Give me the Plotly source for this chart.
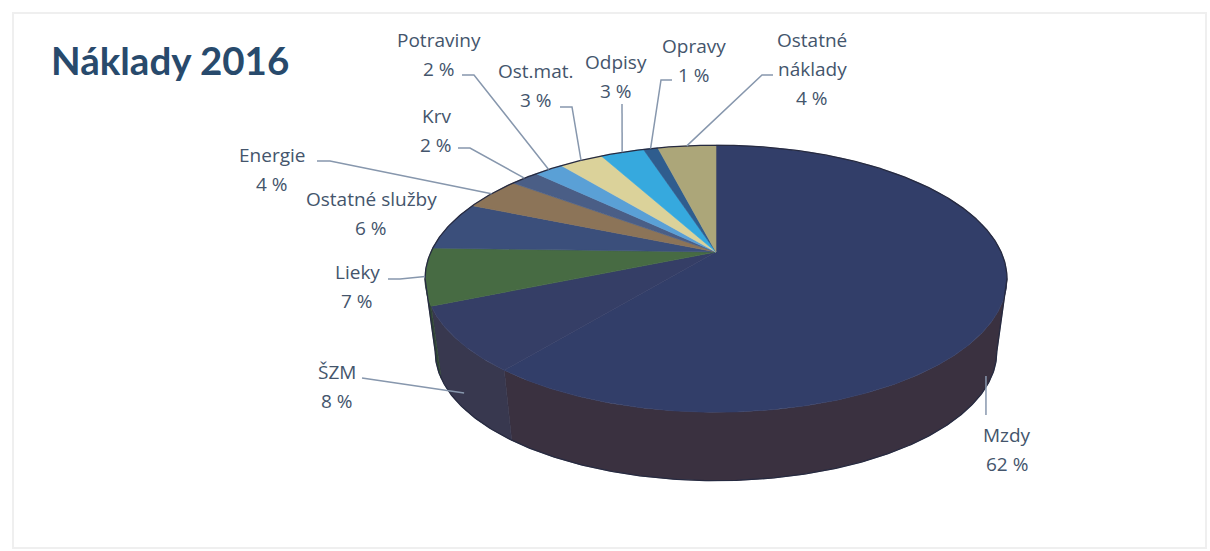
import numpy as np
import plotly.graph_objects as go

# ---------------- data ----------------
categories = ["Mzdy", "ŠZM", "Lieky", "Ostatné služby", "Energie", "Krv",
              "Potraviny", "Ost.mat.", "Odpisy", "Opravy", "Ostatné náklady"]
values = [62, 8, 7, 6, 4, 2, 2, 3, 3, 1, 4]
label_lines = [["Mzdy"], ["ŠZM"], ["Lieky"], ["Ostatné služby"], ["Energie"], ["Krv"],
               ["Potraviny"], ["Ost.mat."], ["Odpisy"], ["Opravy"], ["Ostatné", "náklady"]]
title_text = "Náklady 2016"

# ---------------- styles ----------------
top_colors = ["#323e69", "#353e66", "#476b43", "#3b4f7b", "#8c7458", "#4a5e86",
              "#5aa0d6", "#dbd29a", "#36a9de", "#2f5d8e", "#aca679"]
side_colors = ["#3a3140", "#38384f", "#2f4535", "#2f3f62", "#6f5c46", "#3b4b6b",
               "#4880ab", "#afa87b", "#2b87b1", "#254a71", "#8a855f"]
text_color = "#44556c"
title_color = "#284a6c"
leader_color = "#8797ad"
LABEL_FONT = "'Open Sans', sans-serif"
TITLE_FONT = "Lato, 'Open Sans', sans-serif"

# label layout: centre of first line, leader start, elbow dx, leader end depth fraction
label_pos = [(1007, 435), (337, 372), (357, 272), (371, 199), (272, 155), (436, 116),
             (439, 40), (536, 71), (616, 62), (694, 46), (812, 40)]
leader_start = [None, (362, 378), (388, 279), None, (317, 161), (458, 148),
                (462, 75), (560, 107), (622, 104), (672, 80), (773, 75)]
leader_dx = [0, 0, 12, 0, 13, 12, 12, 12, 0, -11, -11]
leader_depth = [1.0, 0.75, 0, 0, 0, 0, 0, 0, 0, 0, 0]
LINE_H = 29

# ---------------- geometry (projected 3D pie) ----------------
CX, AY = 716.0, 252.0   # apex of pie on screen
E = 0.2                 # perspective factor
M = 128.2               # vertical scale
K = 285.1               # horizontal scale
DEPTH = 74.0
SHRINK = 0.035          # bottom face slightly smaller (perspective)


def proj(theta_deg, z=0.0):
    t = np.radians(theta_deg)
    X, Y = np.sin(t), np.cos(t)
    w = 1 + E * Y
    s = 1 - SHRINK * z
    return CX + s * K * X / w, AY - s * M * Y / w + z * DEPTH


vals = np.array(values, dtype=float)
ang = np.concatenate([[0], np.cumsum(vals / vals.sum() * 360.0)])
VIS_A = 90 + np.degrees(np.arcsin(E))
VIS_B = 270 - np.degrees(np.arcsin(E))

fig = go.Figure()

# side faces
for i in range(len(values)):
    a, b = max(ang[i], VIS_A), min(ang[i + 1], VIS_B)
    if b <= a:
        continue
    th = np.linspace(a, b, max(4, int((b - a) * 2)))
    xt, yt = proj(th, 0)
    xb, yb = proj(th[::-1], 1)
    fig.add_trace(go.Scatter(x=np.concatenate([xt, xb, xt[:1]]), y=np.concatenate([yt, yb, yt[:1]]),
                             mode="lines", fill="toself", fillcolor=side_colors[i],
                             line=dict(color=side_colors[i], width=0.6), hoverinfo="skip"))

# top faces
for i in range(len(values)):
    th = np.linspace(ang[i], ang[i + 1], max(4, int((ang[i + 1] - ang[i]) * 2)))
    xr, yr = proj(th, 0)
    fig.add_trace(go.Scatter(x=np.concatenate([[CX], xr, [CX]]), y=np.concatenate([[AY], yr, [AY]]),
                             mode="lines", fill="toself", fillcolor=top_colors[i],
                             line=dict(color=top_colors[i], width=0.6), hoverinfo="skip"))

# silhouette outline: back rim over the top, then bottom front rim, closed
th_back = np.linspace(VIS_B, VIS_A + 360, 400) % 360
xb1, yb1 = proj(th_back, 0)
th_front = np.linspace(VIS_A, VIS_B, 300)
xf, yf = proj(th_front, 1)
xl0, yl0 = proj(VIS_B, 0)
ox = np.concatenate([xb1, xf, [xl0]])
oy = np.concatenate([yb1, yf, [yl0]])
fig.add_trace(go.Scatter(x=ox, y=oy, mode="lines", line=dict(color="#262a40", width=1.3),
                         hoverinfo="skip"))

# leaders
for i in range(len(values)):
    mid = (ang[i] + ang[i + 1]) / 2
    ex, ey = proj(mid, leader_depth[i])
    if i == 0:
        fig.add_trace(go.Scatter(x=[ex - 8, ex - 8], y=[label_pos[0][1] - 20, ey + 6], mode="lines",
                                 line=dict(color=leader_color, width=1.5), hoverinfo="skip"))
        continue
    if leader_start[i] is None:
        continue
    sx, sy = leader_start[i]
    fig.add_trace(go.Scatter(x=[sx, sx + leader_dx[i], ex], y=[sy, sy, ey], mode="lines",
                             line=dict(color=leader_color, width=1.5), hoverinfo="skip"))

# labels
annotations = []
for i in range(len(values)):
    lines = label_lines[i] + [f"{values[i]} %"]
    x0, y0 = label_pos[i]
    for j, t in enumerate(lines):
        annotations.append(dict(x=x0, y=y0 + j * LINE_H, text=t, showarrow=False,
                                xref="x", yref="y", xanchor="center", yanchor="middle",
                                font=dict(family=LABEL_FONT, size=19, color=text_color, weight=500)))
annotations.append(dict(x=49, y=60, text=f"<b>{title_text}</b>", showarrow=False, xref="x", yref="y",
                        xanchor="left", yanchor="middle",
                        font=dict(family=TITLE_FONT, size=38.5, color=title_color)))

fig.update_layout(
    width=1210, height=551, margin=dict(l=0, r=0, t=0, b=0),
    paper_bgcolor="white", plot_bgcolor="white", showlegend=False, hovermode=False,
    xaxis=dict(range=[0, 1210], visible=False, fixedrange=True),
    yaxis=dict(range=[551, 0], visible=False, fixedrange=True),
    annotations=annotations,
    shapes=[dict(type="rect", xref="x", yref="y", x0=13, y0=13, x1=1206, y1=548,
                 line=dict(color="#efefef", width=2))],
)

fig.write_html("out.html", config={"displayModeBar": False, "staticPlot": True},
               post_script="document.body.style.margin='0px';")
